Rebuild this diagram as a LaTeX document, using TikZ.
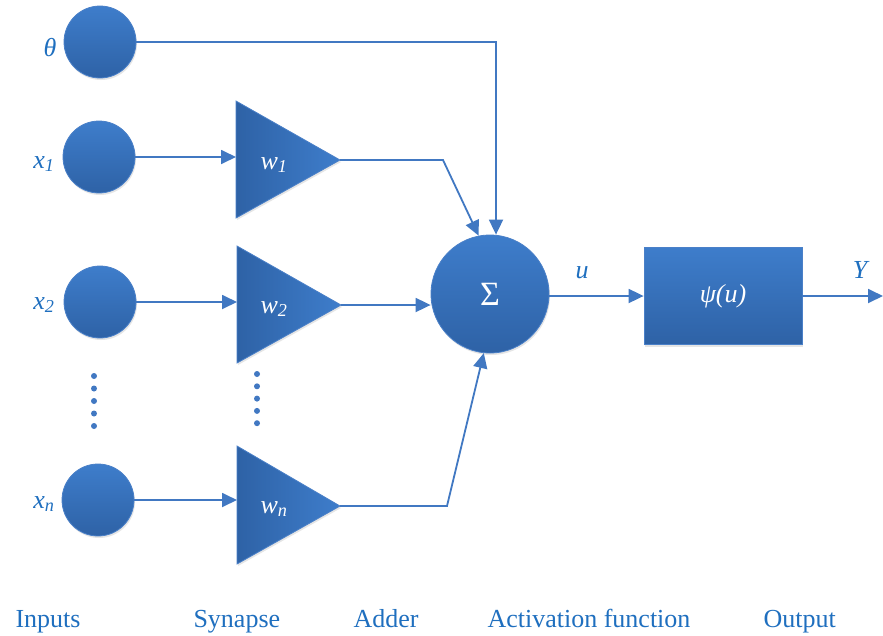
\documentclass[tikz,border=0pt]{standalone}
\usepackage{fontspec}
\setmainfont{Liberation Serif}
\usetikzlibrary{arrows.meta,shadows}
\definecolor{lineblue}{HTML}{4178C2}
\definecolor{txtblue}{HTML}{1F6FBF}
\definecolor{fillhi}{HTML}{3E7DCB}
\definecolor{filllo}{HTML}{2E62A6}
\definecolor{edgeblue}{HTML}{4A80C8}
\tikzset{
  x=1pt, y=-1pt,
  conn/.style={draw=lineblue, line width=1.8pt, -{Triangle[length=15pt,width=14pt]}},
  neuron/.style={circle, minimum size=72pt, inner sep=0pt, top color=fillhi, bottom color=filllo, draw=edgeblue, line width=0.8pt, drop shadow={opacity=0.2, shadow xshift=1pt, shadow yshift=-2pt}},
  sumnode/.style={circle, minimum size=118pt, inner sep=0pt, top color=fillhi, bottom color=filllo, draw=edgeblue, line width=0.8pt, drop shadow={opacity=0.2, shadow xshift=1pt, shadow yshift=-2pt}, text=white, font=\fontsize{34}{38}\selectfont},
  actbox/.style={rectangle, minimum width=158pt, minimum height=97pt, inner sep=0pt, top color=fillhi, bottom color=filllo, draw=edgeblue, line width=0.8pt, drop shadow={opacity=0.2, shadow xshift=1pt, shadow yshift=-2pt}, text=white, font=\fontsize{26}{30}\selectfont\itshape},
  tri/.style={left color=filllo, right color=fillhi, draw=edgeblue, line width=0.8pt, drop shadow={opacity=0.2, shadow xshift=1pt, shadow yshift=-2pt}},
  wlab/.style={text=white, font=\fontsize{26}{30}\selectfont\itshape},
  inlab/.style={text=txtblue, font=\fontsize{26}{30}\selectfont\itshape},
  bottomlab/.style={text=txtblue, font=\fontsize{26}{30}\selectfont, anchor=base west},
  dotmark/.style={circle, fill=lineblue, minimum size=6pt, inner sep=0pt}
}
\begin{document}
\begin{tikzpicture}
\useasboundingbox (0,0) rectangle (883,635);
\fill[white] (0,0) rectangle (883,635);

% input neurons
\node[neuron] (theta) at (100,42) {};
\node[neuron] (x1) at (99,157) {};
\node[neuron] (x2) at (100,302) {};
\node[neuron] (xn) at (98,500) {};

\node[inlab] (ltheta) at (50,48) {θ};
\node[inlab] (lx1) at (44,164) {x\textsubscript{1}};
\node[inlab] (lx2) at (44,305) {x\textsubscript{2}};
\node[inlab] (lxn) at (44,504) {x\textsubscript{n}};

% dots
\foreach \i in {0,...,4} {
  \node[dotmark] (da\i) at (94,376+12.5*\i) {};
  \node[dotmark] (db\i) at (257,374+12.3*\i) {};
}

% synapse triangles
\path[tri] (236,101) -- (340,160) -- (236,218) -- cycle;
\path[tri] (237,246) -- (341,305) -- (237,363) -- cycle;
\path[tri] (237,446) -- (340,506) -- (237,564) -- cycle;
\coordinate (w1in) at (236,157);
\coordinate (w1out) at (340,160);
\coordinate (w2in) at (237,302);
\coordinate (w2out) at (341,305);
\coordinate (wnin) at (237,500);
\coordinate (wnout) at (340,506);
\node[wlab] (w1) at (274,165) {w\textsubscript{1}};
\node[wlab] (w2) at (274,309) {w\textsubscript{2}};
\node[wlab] (wn) at (274,509) {w\textsubscript{n}};

% adder
\node[sumnode] (sum) at (490,294) {Σ};
% activation
\node[actbox] (psi) at (723,296) {ψ(u)};

\node[inlab] (lu) at (582,273) {u};
\node[inlab] (lY) at (860,270) {Y};
\coordinate (yend) at (883,296);

% connectors
\draw[conn] (x1) -- (w1in);
\draw[conn] (x2) -- (w2in);
\draw[conn] (xn) -- (wnin);

\coordinate (tc) at (496,42);
\draw[conn] (theta.east) -- (tc) -- (tc |- sum.north);
\coordinate (c1) at (443,160);
\draw[conn] (w1out) -- (c1) -- (sum.101);
\draw[conn] (w2out) -- (w2out -| sum.west);
\coordinate (cn) at (447,506);
\draw[conn] (wnout) -- (cn) -- (sum.-96);

\draw[conn] (sum.east |- psi.west) -- (psi.west);
\draw[conn] (psi.east) -- (yend);

% bottom labels
\node[bottomlab] (t1) at (12,627) {Inputs};
\node[bottomlab] (t2) at (190,627) {Synapse};
\node[bottomlab] (t3) at (350,627) {Adder};
\node[bottomlab] (t4) at (484,627) {Activation function};
\node[bottomlab] (t5) at (760,627) {Output};
\end{tikzpicture}
\end{document}
